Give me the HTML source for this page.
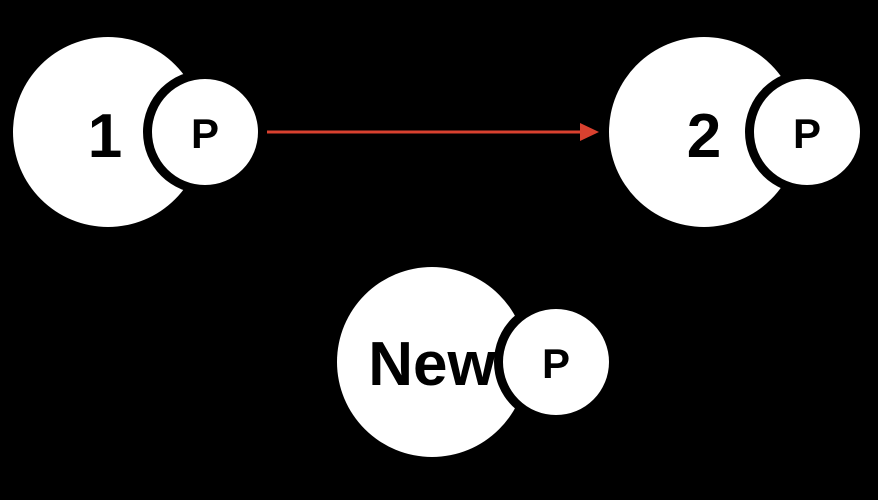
<!DOCTYPE html>
<html><head><meta charset="utf-8"><style>
html,body{margin:0;padding:0;background:#000;}
svg{display:block;}
text{font-family:"Liberation Sans",sans-serif;font-weight:bold;fill:#000;text-anchor:middle;}
</style></head><body>
<svg width="878" height="500" viewBox="0 0 878 500" xmlns="http://www.w3.org/2000/svg">
<rect width="878" height="500" fill="#000"/>
<line x1="267" y1="132" x2="582" y2="132" stroke="#d9412f" stroke-width="3"/>
<polygon points="580,123 599,132 580,141" fill="#d9412f"/>

<circle cx="108" cy="132" r="95" fill="#fff"/>
<text x="105" y="157" font-size="62">1</text>
<circle cx="205" cy="132" r="62" fill="#000"/>
<circle cx="205" cy="132" r="53" fill="#fff"/>
<text x="205" y="148" font-size="42">P</text>

<circle cx="704" cy="132" r="95" fill="#fff"/>
<text x="704" y="157" font-size="62">2</text>
<circle cx="807" cy="132" r="62" fill="#000"/>
<circle cx="807" cy="132" r="53" fill="#fff"/>
<text x="807" y="148" font-size="42">P</text>

<circle cx="432" cy="362" r="95" fill="#fff"/>
<text x="432" y="385" font-size="62">New</text>
<circle cx="556" cy="362" r="62" fill="#000"/>
<circle cx="556" cy="362" r="53" fill="#fff"/>
<text x="556" y="378" font-size="42">P</text>
</svg>
</body></html>
